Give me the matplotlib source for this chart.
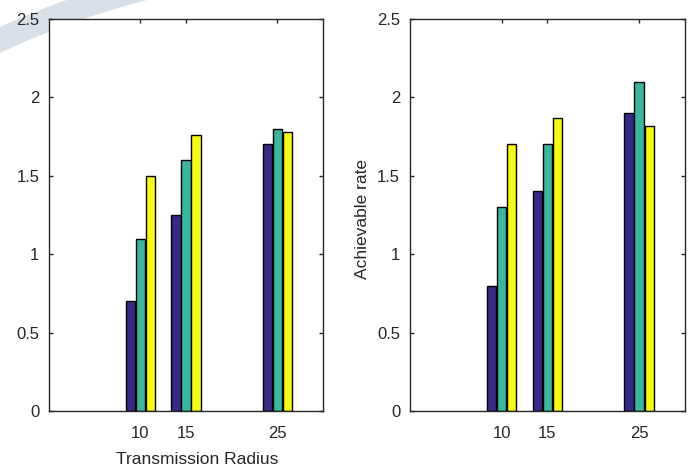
import matplotlib
matplotlib.use("Agg")
import matplotlib.pyplot as plt
import numpy as np
from matplotlib.patches import Arc

plt.rcParams['font.family'] = ['Liberation Sans', 'DejaVu Sans']

radius = [10, 15, 25]
# left panel, three schemes per radius
left_s1 = [0.7, 1.25, 1.7]
left_s2 = [1.1, 1.6, 1.8]
left_s3 = [1.5, 1.76, 1.78]
# right panel
right_s1 = [0.8, 1.4, 1.9]
right_s2 = [1.3, 1.7, 2.1]
right_s3 = [1.7, 1.87, 1.82]

colors = ['#352A87', '#38B89E', '#F9FB0E']
yticks = [0, 0.5, 1, 1.5, 2, 2.5]
ytick_labels = ['0', '0.5', '1', '1.5', '2', '2.5']
ink = '#262626'

fig = plt.figure(figsize=(6.96, 4.72), dpi=100)

# faint watermark stroke in the top-left corner
fig.add_artist(Arc((3.6, -3.5), 17.22, 17.22, theta1=100, theta2=125,
                   transform=fig.dpi_scale_trans, color='#d8e0e5', lw=17, zorder=0))

ax1 = fig.add_axes([0.0704, 0.1292, 0.3937, 0.8305])
ax2 = fig.add_axes([0.589, 0.1292, 0.395, 0.8305])


def draw_panel(ax, series):
    x = np.array(radius, dtype=float)
    offs = [-1.1, 0.0, 1.1]
    for vals, off, c in zip(series, offs, colors):
        ax.bar(x + off, vals, width=1.0, color=c, edgecolor='black', linewidth=1.0, zorder=2)
    ax.set_xlim(0, 30)
    ax.set_ylim(0, 2.5)
    ax.set_xticks(radius)
    ax.set_xticklabels([str(r) for r in radius])
    ax.set_yticks(yticks)
    ax.set_yticklabels(ytick_labels)
    ax.tick_params(direction='in', length=3, width=1, colors=ink, labelsize=12,
                   top=True, right=True)
    ax.tick_params(axis='x', pad=11)
    ax.tick_params(axis='y', pad=7)
    for s in ax.spines.values():
        s.set_color(ink)
        s.set_linewidth(1.0)
    ax.set_facecolor('white')


draw_panel(ax1, [left_s1, left_s2, left_s3])
draw_panel(ax2, [right_s1, right_s2, right_s3])

ax1.set_xlabel('Transmission Radius', fontsize=12.5, color=ink)
ax1.xaxis.set_label_coords(0.54, -0.105)
ax2.set_ylabel('Achievable rate', fontsize=12.5, color=ink)
ax2.yaxis.set_label_coords(-0.145, 0.49)

fig.savefig('out.png', dpi=100)
